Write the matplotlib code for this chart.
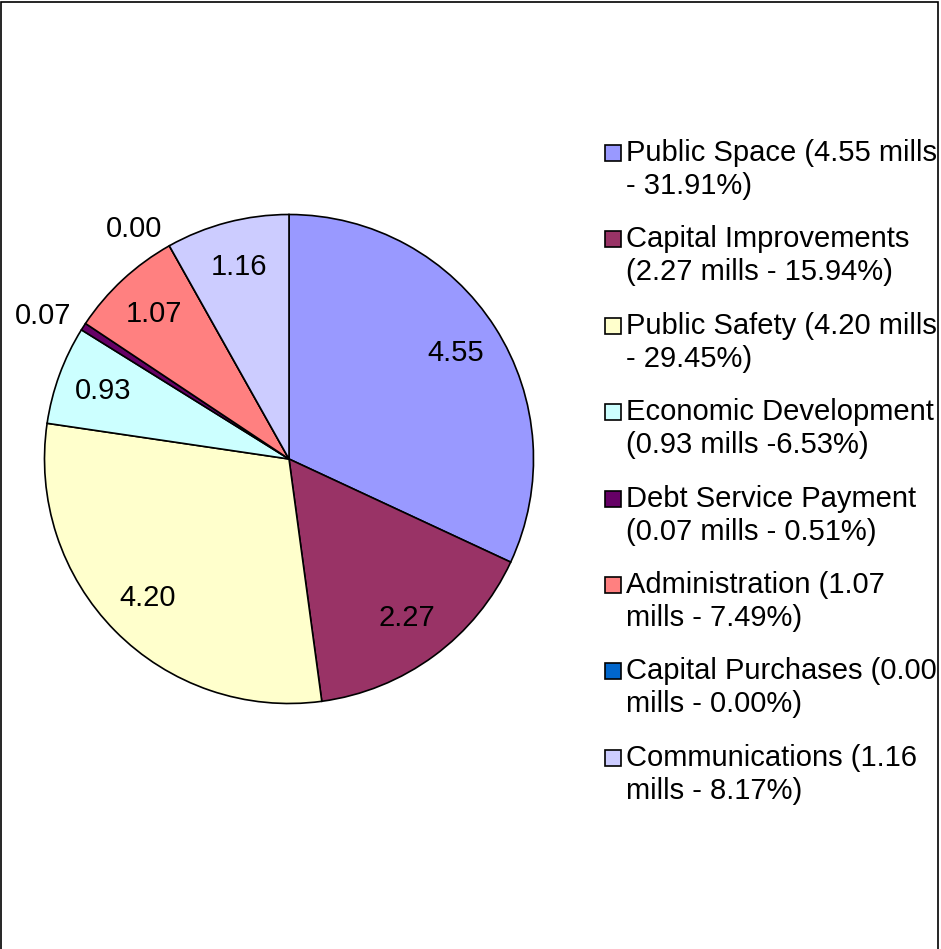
import matplotlib.pyplot as plt
from matplotlib.patches import Rectangle
import numpy as np

plt.rcParams['font.family'] = ['Liberation Sans', 'DejaVu Sans']

# millage split by budget area
categories = ['Public Space', 'Capital Improvements', 'Public Safety',
              'Economic Development', 'Debt Service Payment', 'Administration',
              'Capital Purchases', 'Communications']
mills = [4.55, 2.27, 4.20, 0.93, 0.07, 1.07, 0.00, 1.16]
legend_labels = ['Public Space (4.55 mills\n- 31.91%)',
                 'Capital Improvements\n(2.27 mills - 15.94%)',
                 'Public Safety (4.20 mills\n- 29.45%)',
                 'Economic Development\n(0.93 mills -6.53%)',
                 'Debt Service Payment\n(0.07 mills - 0.51%)',
                 'Administration (1.07\nmills - 7.49%)',
                 'Capital Purchases (0.00\nmills - 0.00%)',
                 'Communications (1.16\nmills - 8.17%)']
colors = ['#9999FF', '#993366', '#FFFFCC', '#CCFFFF',
          '#660066', '#FF8080', '#0066CC', '#CCCCFF']

W, H = 941, 949
fig = plt.figure(figsize=(W / 100, H / 100), dpi=100)

# outer frame
fig.patches.append(Rectangle((1 / W, -0.01), 937 / W, 1 - 1.5 / H + 0.01,
                             transform=fig.transFigure, fill=False,
                             edgecolor='black', linewidth=1.2))

cx, cy, r = 289, 459, 244.5
ax = fig.add_axes([(cx - r) / W, (H - cy - r) / H, 2 * r / W, 2 * r / H])
total = sum(mills)
wedges, texts, autotexts = ax.pie(
    mills, colors=colors, startangle=90, counterclock=False,
    autopct=lambda p: '%.2f' % (p * total / 100), pctdistance=0.81,
    wedgeprops=dict(edgecolor='black', linewidth=1.2),
    textprops=dict(fontsize=21))
ax.set_xlim(-1, 1)
ax.set_ylim(-1, 1)

# tiny slices get their value just outside the rim
for w, t, v in zip(wedges, autotexts, mills):
    if v < 0.5:
        ang = np.deg2rad((w.theta1 + w.theta2) / 2)
        t.set_position((1.06 * np.cos(ang), 1.08 * np.sin(ang)))
        t.set_ha('right')

# legend drawn by hand so the swatch sits on the first line
sq = 16
for i, (lab, c) in enumerate(zip(legend_labels, colors)):
    y0 = 153 + i * 86.4
    fig.patches.append(Rectangle((605 / W, (H - y0 - sq / 2) / H), sq / W, sq / H,
                                 transform=fig.transFigure, facecolor=c,
                                 edgecolor='black', linewidth=1.2))
    for j, line in enumerate(lab.split('\n')):
        fig.text(626 / W, (H - y0 - j * 33) / H, line, fontsize=21,
                 ha='left', va='center')

plt.savefig('out.png', dpi=100)
